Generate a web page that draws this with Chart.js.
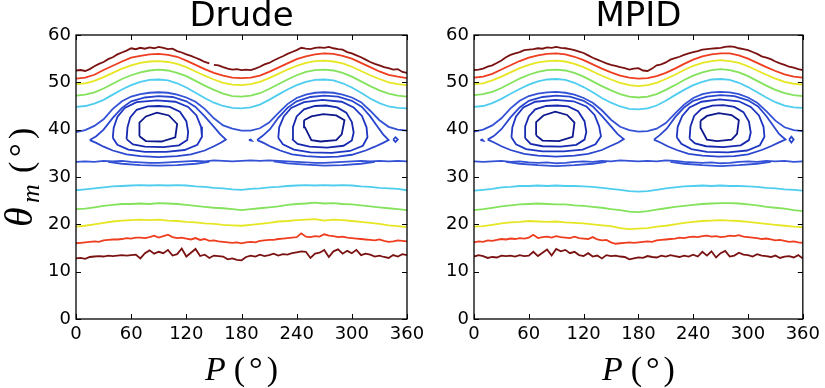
<!DOCTYPE html>
<html>
<head>
<meta charset="utf-8">
<script src="https://cdn.jsdelivr.net/npm/chart.js@4.4.1/dist/chart.umd.min.js"></script>
<style>
  body { margin: 0; background: #fff; overflow: hidden; }
  #wrap { position: relative; width: 825px; height: 388px; }
  canvas { position: absolute; top: 0; }
  #left { left: 0; }
  #right { left: 410px; }
</style>
</head>
<body>
<div id="wrap">
  <canvas id="left" width="430" height="388"></canvas>
  <canvas id="right" width="415" height="388"></canvas>
</div>
<script>
// angle grids (degrees of P)
var P10 = [0,10,20,30,40,50,60,70,80,90,100,110,120,130,140,150,160,170,180,190,200,210,220,230,240,250,260,270,280,290,300,310,320,330,340,350,360];
var P5 = [0,5,10,15,20,25,30,35,40,45,50,55,60,65,70,75,80,85,90,95,100,105,110,115,120,125,130,135,140,145,150,155,160,165,170,175,180,185,190,195,200,205,210,215,220,225,230,235,240,245,250,255,260,265,270,275,280,285,290,295,300,305,310,315,320,325,330,335,340,345,350,355,360];
var xTicks = [0, 60, 120, 180, 240, 300, 360];
var yTicks = [0, 10, 20, 30, 40, 50, 60];

// ---- Drude ----
var drudeDarkRedTopA = [52.5,52.6,52.4,52.8,53.4,53.9,54.3,54.9,55.3,55.9,56.3,56.7,
  57.2,57.0,57.3,57.1,57.4,57.2,57.5,57.3,57.0,57.1,56.6,56.3,
  55.9,55.6,55.2,54.8,54.3,54.0];
var drudeDarkRedTopB = [53.7,53.6,53.2,52.9,52.7,52.8,
  52.6,52.7,52.6,52.9,53.3,53.8,54.1,54.6,55.1,55.5,56.0,56.4,
  56.8,57.3,57.1,57.0,57.3,57.4,57.3,57.5,57.2,57.0,56.9,56.4,
  56.1,55.7,55.3,54.8,54.3,53.9,53.6,53.2,53.0,52.7,52.8,52.2,52.0];
var drudeRedTop = [50.8,51.0,51.6,52.6,53.5,54.4,55.2,55.6,55.9,56.0,55.8,55.4,54.6,53.7,52.8,52.0,51.4,51.0,50.9,51.0,51.4,52.2,53.1,54.0,54.9,55.5,55.9,56.1,56.0,55.6,55.0,54.1,53.2,52.3,51.6,51.2,50.9];
var drudeYellowTop = [49.6,49.8,50.3,51.1,52.0,52.9,53.6,54.1,54.4,54.5,54.3,53.9,53.2,52.3,51.4,50.6,49.9,49.5,49.4,49.6,50.1,50.9,51.8,52.7,53.5,54.1,54.5,54.6,54.4,54.0,53.3,52.4,51.5,50.7,50.0,49.6,49.4];
var drudeGreenTop = [47.2,47.4,47.9,48.7,49.7,50.7,51.5,52.1,52.5,52.7,52.5,52.0,51.3,50.3,49.3,48.4,47.6,47.1,47.0,47.2,47.7,48.6,49.6,50.6,51.5,52.2,52.6,52.7,52.5,52.0,51.2,50.2,49.2,48.3,47.6,47.2,47.0];
var drudeCyanTop = [44.8,45.0,45.5,46.3,47.4,48.5,49.4,50.1,50.5,50.6,50.4,49.8,48.9,47.8,46.7,45.7,45.0,44.6,44.5,44.7,45.3,46.3,47.4,48.5,49.4,50.1,50.5,50.6,50.4,49.8,48.9,47.8,46.6,45.6,44.9,44.6,44.5];
var drudeBlueTop = [39.5,39.9,40.8,42.2,44.4,46.0,47.0,47.5,47.8,47.9,47.8,47.4,46.8,45.9,44.4,42.4,40.9,40.2,39.8,39.8,40.3,41.5,43.5,45.4,46.7,47.4,47.8,47.9,47.8,47.4,46.8,45.8,44.0,42.0,40.6,40.0,39.8];
var drudeBlueLow = [33.2,33.3,33.2,33.4,33.3,33.4,33.2,33.1,33.0,33.0,33.1,33.2,33.3,33.4,33.3,33.5,33.4,33.3,33.4,33.5,33.4,33.5,33.4,33.3,33.2,33.1,33.0,33.0,33.1,33.2,33.3,33.4,33.3,33.4,33.3,33.4,33.3];
var drudeCyanLow = [27.2,27.4,27.6,27.8,28.0,28.1,28.2,28.3,28.2,28.3,28.2,28.3,28.2,28.0,27.9,27.7,27.6,27.4,27.3,27.5,27.6,27.8,27.9,28.1,28.2,28.3,28.2,28.3,28.2,28.3,28.2,28.0,27.9,27.7,27.6,27.5,27.2];
var drudeGreenLow = [23.2,23.3,23.6,23.9,24.1,24.3,24.3,24.4,24.3,24.5,24.4,24.3,24.1,23.9,23.7,23.5,23.4,23.2,23.0,23.2,23.4,23.6,23.8,24.1,24.3,24.4,24.6,24.4,24.5,24.3,24.2,24.0,23.8,23.6,23.4,23.2,23.0];
var drudeYellowLow = [19.5,19.7,20.0,20.3,20.6,20.8,20.9,21.0,20.9,21.0,20.8,20.7,20.5,20.4,20.2,20.1,19.9,19.8,19.7,19.9,20.1,20.3,20.6,20.7,20.9,21.0,21.1,20.8,21.0,20.9,20.7,20.5,20.3,20.1,19.8,19.6,19.4];
var drudeRedLow = [16.0,16.1,16.2,16.3,16.4,16.3,16.6,16.7,16.8,16.8,16.9,17.1,
  17.0,17.2,17.2,17.1,17.3,17.6,17.2,17.5,17.8,17.3,17.1,17.2,
  17.0,16.8,17.1,16.7,16.9,16.5,16.6,16.4,16.3,16.2,16.1,16.2,
  16.0,16.2,16.3,16.2,16.5,16.6,16.7,16.7,16.9,17.0,17.1,17.2,
  17.3,18.1,17.4,17.3,17.5,17.4,17.9,17.6,17.5,17.3,17.4,17.2,
  17.1,17.0,16.9,16.8,16.7,16.6,16.8,16.5,16.3,16.4,16.6,16.5,16.4];
var drudeDarkRedLow = [12.8,12.9,12.7,13.1,13.2,13.3,13.2,13.4,13.3,13.4,13.5,13.4,
  13.5,13.6,12.8,13.9,14.5,13.8,14.2,13.9,14.6,13.4,13.7,14.9,
  13.2,14.0,14.8,13.3,13.6,12.9,13.4,13.3,13.2,12.6,12.8,12.5,
  12.4,13.1,13.4,13.2,13.6,13.3,13.5,13.8,13.4,13.7,13.6,13.9,
  14.1,14.3,14.2,12.9,13.8,14.0,14.6,13.1,14.3,14.7,13.8,14.4,
  13.9,14.6,13.5,13.8,13.6,13.2,13.4,13.1,12.9,13.5,13.2,13.7,13.5];
// closed contours around the two minima, [P, theta]
var drudeEyeA1 = [[69,38.6],[69,41.5],[76,42.8],[88,43.6],[101,43.0],[110,41.2],[108,38.4],[93,37.5],[76,37.6],[69,38.6]];
var drudeEyeA2 = [[55,38.0],[56,40.5],[59,42.6],[66,44.2],[78,44.9],[90,45.0],[102,44.8],[113,43.8],[120,41.8],[122,39.5],[121,37.8],[112,36.7],[95,36.3],[75,36.4],[62,36.9],[55,38.0]];
var drudeEyeA3 = [[40,38.3],[41,40.4],[45,42.7],[53,44.6],[66,45.8],[88,46.2],[108,45.9],[122,44.8],[131,43.0],[136,40.6],[137,38.5],[132,36.8],[118,35.7],[98,35.3],[75,35.3],[57,35.8],[45,36.8],[40,38.3]];
var drudeEyeA4 = [[15,37.8],[22,38.6],[30,40.0],[40,42.5],[50,44.6],[60,46.0],[75,46.8],[90,47.1],[105,46.9],[120,46.0],[130,44.8],[140,42.8],[150,40.6],[157,39.0],[163,37.9],[158,37.3],[150,36.5],[140,35.6],[125,34.8],[110,34.4],[90,34.2],[70,34.4],[55,34.8],[40,35.6],[30,36.4],[22,37.2],[15,37.8]];
var drudeEyeB1 = [[248,42.0],[256,42.8],[269,43.3],[283,43.0],[292,42.0],[289,39.0],[283,37.8],[266,37.5],[256,37.8],[249,40.5],[248,42.0]];
var drudeEyeB2 = [[235,38.0],[236,40.6],[240,42.8],[248,44.3],[260,45.0],[272,45.1],[284,44.7],[294,43.6],[300,41.6],[302,39.4],[300,37.7],[291,36.6],[273,36.2],[254,36.4],[241,37.0],[235,38.0]];
var drudeEyeB3 = [[220,38.3],[221,40.5],[226,42.8],[234,44.6],[248,45.8],[268,46.3],[289,45.9],[302,44.7],[311,42.9],[316,40.5],[317,38.4],[312,36.6],[298,35.5],[278,35.1],[255,35.2],[237,35.8],[225,36.9],[220,38.3]];
var drudeEyeB4 = [[197,37.8],[203,38.7],[211,40.1],[220,42.5],[230,44.6],[240,46.0],[255,46.9],[270,47.2],[285,47.0],[300,46.1],[311,44.8],[320,42.8],[328,40.6],[334,39.0],[340,37.8],[334,37.2],[325,36.4],[315,35.6],[300,34.7],[285,34.3],[268,34.2],[250,34.4],[235,34.8],[222,35.6],[212,36.4],[204,37.2],[197,37.8]];
var drudeArcA = [[35,33.2],[50,32.8],[70,32.5],[90,32.4],[110,32.5],[130,32.8],[145,33.2]];
var drudeArcB = [[215,33.3],[230,32.9],[250,32.6],[270,32.4],[290,32.5],[310,32.8],[325,33.2]];
var drudeBits = [[[345,37.9],[347.5,38.4],[350,37.9],[347.5,37.4],[345,37.9]], [[188,37.8],[190,37.9],[191,37.7],[188,37.8]]];

// ---- MPID ----
var mpidDarkRedTop = [52.6,52.7,52.9,53.3,53.6,54.1,54.6,55.3,55.8,56.1,56.4,56.8,
  56.9,57.0,57.2,57.1,57.4,57.3,57.5,57.3,57.2,57.0,56.8,56.5,
  56.2,55.7,55.2,54.8,54.4,54.0,53.7,53.5,53.2,53.0,52.7,52.9,
  53.0,52.5,52.4,52.9,53.6,53.8,54.2,54.8,55.1,55.4,55.8,56.1,
  56.4,56.6,56.9,57.0,57.1,57.2,57.3,57.5,57.6,57.5,57.2,57.0,
  56.8,56.4,56.0,55.5,55.2,54.9,54.4,54.0,53.7,53.3,53.1,52.8,52.6];
var mpidRedTop = [51.0,51.2,51.8,52.7,53.6,54.5,55.2,55.7,56.0,56.1,55.9,55.4,54.7,53.8,52.9,52.1,51.4,51.0,50.8,50.9,51.3,52.0,52.9,53.9,54.8,55.5,55.9,56.1,56.1,55.7,55.0,54.1,53.2,52.4,51.7,51.2,51.0];
var mpidYellowTop = [49.6,49.8,50.4,51.2,52.1,53.0,53.7,54.2,54.5,54.6,54.4,53.9,53.2,52.3,51.4,50.6,49.9,49.4,49.2,49.4,49.9,50.7,51.6,52.6,53.5,54.1,54.5,54.7,54.5,54.1,53.4,52.5,51.6,50.8,50.1,49.7,49.5];
var mpidGreenTop = [47.3,47.5,48.0,48.8,49.8,50.8,51.6,52.2,52.6,52.7,52.5,52.0,51.2,50.2,49.2,48.3,47.5,47.0,46.8,47.0,47.5,48.4,49.4,50.5,51.4,52.1,52.6,52.8,52.6,52.1,51.3,50.3,49.3,48.4,47.7,47.3,47.1];
var mpidCyanTop = [44.8,45.0,45.6,46.5,47.6,48.6,49.5,50.2,50.6,50.7,50.5,49.9,49.0,47.9,46.7,45.7,44.9,44.4,44.3,44.5,45.1,46.1,47.3,48.4,49.4,50.1,50.6,50.7,50.5,49.9,49.0,47.9,46.8,45.8,45.1,44.7,44.6];
var mpidBlueTop = [39.6,40.0,40.9,42.4,44.5,46.1,47.1,47.6,47.9,48.0,47.8,47.4,46.7,45.7,44.1,42.1,40.6,39.9,39.6,39.7,40.2,41.4,43.4,45.3,46.7,47.5,47.9,48.0,47.9,47.5,46.8,45.7,43.9,41.9,40.5,39.9,39.7];
var mpidBlueLow = [33.3,33.2,33.3,33.4,33.2,33.3,33.1,33.0,33.1,32.9,33.0,33.2,33.3,33.2,33.4,33.3,33.5,33.4,33.3,33.4,33.3,33.5,33.4,33.2,33.1,33.0,33.1,32.9,33.0,33.2,33.3,33.2,33.4,33.3,33.4,33.2,33.3];
var mpidCyanLow = [27.1,27.3,27.5,27.8,27.9,28.1,28.1,28.2,28.1,28.2,28.1,28.1,28.0,27.9,27.7,27.5,27.3,27.0,26.9,27.0,27.3,27.6,27.8,28.0,28.1,28.2,28.1,28.2,28.1,28.1,28.0,27.9,27.7,27.6,27.4,27.3,27.1];
var mpidGreenLow = [23.0,23.2,23.5,23.8,24.0,24.2,24.3,24.4,24.3,24.2,24.2,24.0,23.9,23.7,23.5,23.2,23.0,22.7,22.6,22.8,23.1,23.4,23.7,23.9,24.1,24.3,24.4,24.5,24.5,24.4,24.2,24.0,23.7,23.5,23.3,23.0,22.8];
var mpidYellowLow = [19.5,19.6,19.9,20.2,20.4,20.5,20.7,20.6,20.5,20.6,20.4,20.3,20.2,20.0,19.8,19.6,19.2,19.0,19.1,19.2,19.5,19.7,20.0,20.3,20.5,20.7,20.8,20.9,20.8,20.7,20.5,20.3,20.1,19.9,19.7,19.5,19.4];
var mpidRedLow = [16.2,16.4,16.3,16.6,16.5,16.7,16.9,16.8,17.0,16.9,17.1,17.0,
  17.2,17.8,17.1,17.3,17.4,17.2,17.5,17.3,17.2,17.1,17.4,17.1,
  17.0,16.9,17.3,16.8,16.6,16.7,16.2,15.9,16.0,16.1,16.2,16.1,
  16.2,16.3,16.4,16.3,16.6,16.7,16.8,16.9,17.0,17.2,17.1,17.3,
  17.4,17.3,17.5,17.6,17.4,17.5,17.3,17.4,17.6,17.5,17.7,17.4,
  17.3,17.2,17.1,16.9,17.0,16.8,16.6,16.7,16.5,16.3,16.4,16.2,16.1];
var mpidDarkRedLow = [13.2,13.5,13.3,12.9,13.1,13.0,13.4,13.3,13.4,13.2,13.5,13.3,
  13.4,14.2,13.3,14.0,14.7,13.4,14.8,14.3,14.6,13.9,14.2,13.5,
  13.3,13.9,13.2,13.4,12.8,13.5,13.3,13.4,13.2,13.1,12.6,12.8,
  13.0,12.9,13.3,13.1,13.0,13.4,13.2,13.5,13.3,13.1,13.4,13.2,
  13.6,13.2,14.2,13.4,14.3,13.0,13.9,14.4,13.2,13.4,14.0,13.6,
  13.5,13.2,13.7,13.4,13.3,13.1,13.4,12.9,13.2,13.3,13.0,13.5,12.8];
var mpidEyeA1 = [[68,38.8],[68,41.6],[76,43.0],[89,43.8],[102,43.1],[110,41.5],[108,38.5],[93,37.6],[75,37.7],[68,38.8]];
var mpidEyeA2 = [[56,38.2],[56,40.7],[60,42.8],[67,44.3],[79,45.0],[91,45.1],[103,44.9],[114,43.9],[121,41.8],[123,39.5],[121,37.9],[112,36.8],[95,36.4],[75,36.5],[62,37.0],[56,38.2]];
var mpidEyeA3 = [[41,38.4],[42,40.5],[46,42.8],[54,44.7],[67,45.9],[89,46.3],[109,46.0],[123,44.9],[132,43.1],[137,40.7],[139,38.6],[133,36.9],[119,35.8],[98,35.4],[75,35.4],[57,35.9],[46,36.9],[41,38.4]];
var mpidEyeA4 = [[15,37.9],[22,38.7],[30,40.1],[40,42.6],[50,44.7],[60,46.1],[75,46.9],[90,47.2],[105,47.0],[120,46.1],[130,44.9],[140,42.9],[150,40.7],[157,39.1],[164,38.0],[158,37.3],[150,36.6],[140,35.7],[125,34.9],[110,34.5],[90,34.3],[70,34.5],[55,34.9],[40,35.7],[30,36.5],[22,37.3],[15,37.9]];
var mpidEyeB1 = [[248,41.9],[255,42.9],[268,43.5],[282,43.1],[290,42.0],[288,39.1],[282,37.9],[266,37.6],[255,37.9],[248,40.4],[248,41.9]];
var mpidEyeB2 = [[236,38.1],[237,40.7],[241,42.9],[249,44.4],[261,45.1],[273,45.2],[285,44.8],[295,43.7],[301,41.7],[303,39.4],[301,37.8],[292,36.7],[273,36.3],[254,36.5],[242,37.1],[236,38.1]];
var mpidEyeB3 = [[222,38.4],[223,40.6],[228,42.9],[236,44.7],[249,45.9],[269,46.4],[290,46.0],[303,44.8],[312,43.0],[317,40.6],[318,38.5],[313,36.7],[299,35.6],[278,35.2],[255,35.3],[238,35.9],[227,37.0],[222,38.4]];
var mpidEyeB4 = [[197,37.9],[203,38.8],[211,40.2],[220,42.6],[230,44.7],[240,46.1],[255,47.0],[270,47.3],[285,47.1],[300,46.2],[311,44.9],[320,42.9],[328,40.7],[334,39.1],[341,37.9],[334,37.3],[325,36.5],[315,35.7],[300,34.8],[285,34.4],[268,34.3],[250,34.5],[235,34.9],[222,35.7],[212,36.5],[204,37.3],[197,37.9]];
var mpidArcA = [[35,33.2],[50,32.8],[70,32.5],[90,32.3],[110,32.5],[130,32.8],[145,33.2]];
var mpidArcB = [[215,33.2],[230,32.8],[250,32.5],[270,32.3],[290,32.5],[310,32.8],[325,33.2]];
var mpidBits = [[[345,37.9],[347.5,38.5],[350,37.9],[347.5,37.3],[345,37.9]], [[7,37.8],[9,37.9],[10,37.7],[7,37.8]]];

// jet-like level colours
var C = {
  darkRed: '#7a1212', red: '#ee3d1f', yellow: '#e6e624', green: '#84e25c', cyan: '#4fcdef',
  blue5: '#3352d6', blue4: '#2a46cf', blue3: '#1e36c2', blue2: '#1628ae', navy: '#0d188c'
};

function line(xs, ys, color) {
  return { data: xs.map(function (x, i) { return { x: x, y: ys[i] }; }), borderColor: color };
}
function loop(pts, color) {
  return { data: pts.map(function (p) { return { x: p[0], y: p[1] }; }), borderColor: color };
}

var drudeSets = [
  line(P5.slice(0, 30), drudeDarkRedTopA, C.darkRed),
  line(P5.slice(30), drudeDarkRedTopB, C.darkRed),
  line(P10, drudeRedTop, C.red),
  line(P10, drudeYellowTop, C.yellow),
  line(P10, drudeGreenTop, C.green),
  line(P10, drudeCyanTop, C.cyan),
  line(P10, drudeBlueTop, C.blue5),
  line(P10, drudeBlueLow, C.blue5),
  loop(drudeArcA, C.blue5), loop(drudeArcB, C.blue5),
  loop(drudeEyeA4, C.blue4), loop(drudeEyeB4, C.blue4),
  loop(drudeBits[0], C.blue4), loop(drudeBits[1], C.blue4),
  loop(drudeEyeA3, C.blue3), loop(drudeEyeB3, C.blue3),
  loop(drudeEyeA2, C.blue2), loop(drudeEyeB2, C.blue2),
  loop(drudeEyeA1, C.navy), loop(drudeEyeB1, C.navy),
  line(P10, drudeCyanLow, C.cyan),
  line(P10, drudeGreenLow, C.green),
  line(P10, drudeYellowLow, C.yellow),
  line(P5, drudeRedLow, C.red),
  line(P5, drudeDarkRedLow, C.darkRed)
];
var mpidSets = [
  line(P5, mpidDarkRedTop, C.darkRed),
  line(P10, mpidRedTop, C.red),
  line(P10, mpidYellowTop, C.yellow),
  line(P10, mpidGreenTop, C.green),
  line(P10, mpidCyanTop, C.cyan),
  line(P10, mpidBlueTop, C.blue5),
  line(P10, mpidBlueLow, C.blue5),
  loop(mpidArcA, C.blue5), loop(mpidArcB, C.blue5),
  loop(mpidEyeA4, C.blue4), loop(mpidEyeB4, C.blue4),
  loop(mpidBits[0], C.blue4), loop(mpidBits[1], C.blue4),
  loop(mpidEyeA3, C.blue3), loop(mpidEyeB3, C.blue3),
  loop(mpidEyeA2, C.blue2), loop(mpidEyeB2, C.blue2),
  loop(mpidEyeA1, C.navy), loop(mpidEyeB1, C.navy),
  line(P10, mpidCyanLow, C.cyan),
  line(P10, mpidGreenLow, C.green),
  line(P10, mpidYellowLow, C.yellow),
  line(P5, mpidRedLow, C.red),
  line(P5, mpidDarkRedLow, C.darkRed)
];

function serif(size, italic) {
  return (italic ? 'italic ' : '') + size + 'px "Liberation Serif"';
}
// x label pieces: [text, size, italic, dy, gapAfter]
var xLabel = [['P', 34, true, 0, 8], ['(', 34, false, 0, 4], ['\u00b0', 34, false, 0, 4], [')', 34, false, 0, 0]];
// y label pieces: [text, size, italic, dy, offset along the text from its start]
var yLabel = [['\u03b8', 40, true, 0, 0], ['m', 26, true, 7, 24], ['(', 34, false, 0, 54], ['\u00b0', 34, false, 0, 70], [')', 34, false, 0, 88]];

// frame, inward ticks on all four sides, and axis labels
var framePlugin = {
  id: 'framePlugin',
  afterDraw: function (chart, args, opts) {
    var ctx = chart.ctx, a = chart.chartArea, sx = chart.scales.x, sy = chart.scales.y;
    ctx.save();
    ctx.strokeStyle = '#000';
    ctx.lineWidth = 1.3;
    ctx.strokeRect(a.left, a.top, a.right - a.left, a.bottom - a.top);
    ctx.beginPath();
    xTicks.forEach(function (v) {
      var px = Math.round(sx.getPixelForValue(v)) + 0.5;
      ctx.moveTo(px, a.bottom); ctx.lineTo(px, a.bottom - 5);
      ctx.moveTo(px, a.top); ctx.lineTo(px, a.top + 5);
    });
    yTicks.forEach(function (v) {
      var py = Math.round(sy.getPixelForValue(v)) + 0.5;
      ctx.moveTo(a.left, py); ctx.lineTo(a.left + 5, py);
      ctx.moveTo(a.right, py); ctx.lineTo(a.right - 5, py);
    });
    ctx.lineWidth = 1;
    ctx.stroke();

    ctx.fillStyle = '#000';
    ctx.textBaseline = 'alphabetic';
    ctx.textAlign = 'left';
    var w = 0;
    xLabel.forEach(function (p) { ctx.font = serif(p[1], p[2]); w += ctx.measureText(p[0]).width + p[4]; });
    var x = (a.left + a.right) / 2 - w / 2;
    xLabel.forEach(function (p) {
      ctx.font = serif(p[1], p[2]);
      ctx.fillText(p[0], x, 380 + p[3]);
      x += ctx.measureText(p[0]).width + p[4];
    });
    if (opts.yLabel) {
      // rotated text reading upward, starting at y = 227, baseline at x = 32
      yLabel.forEach(function (p) {
        ctx.setTransform(0, -1, 1, 0, 32 + p[3], 227 - p[4]);
        ctx.font = serif(p[1], p[2]);
        ctx.fillText(p[0], 0, 0);
      });
    }
    ctx.restore();
  }
};

var tickFont = { family: 'DejaVu Sans', size: 18 };

function makeChart(id, title, sets, yWidth, rightPad, withYLabel) {
  sets.forEach(function (s) {
    s.showLine = true; s.pointRadius = 0; s.borderWidth = 1.8; s.tension = 0; s.fill = false;
  });
  return new Chart(document.getElementById(id).getContext('2d'), {
    type: 'scatter',
    data: { datasets: sets },
    options: {
      responsive: false,
      animation: false,
      layout: { padding: { left: 0, right: rightPad, top: 0, bottom: 0 } },
      plugins: {
        legend: { display: false },
        tooltip: { enabled: false },
        title: {
          display: true, text: title, fullSize: false, color: '#000',
          font: { family: 'DejaVu Sans', size: 34, weight: 'normal', lineHeight: 1 },
          padding: { top: 0, bottom: 1 }
        },
        framePlugin: { yLabel: withYLabel }
      },
      scales: {
        x: {
          type: 'linear', min: 0, max: 360,
          afterBuildTicks: function (s) { s.ticks = xTicks.map(function (v) { return { value: v }; }); },
          ticks: { font: tickFont, color: '#000', padding: 5, maxRotation: 0, autoSkip: false },
          grid: { display: false, drawTicks: false },
          border: { display: false },
          afterFit: function (s) { s.height = 69; }
        },
        y: {
          type: 'linear', min: 0, max: 60,
          afterBuildTicks: function (s) { s.ticks = yTicks.map(function (v) { return { value: v }; }); },
          ticks: { font: tickFont, color: '#000', padding: 5, autoSkip: false },
          grid: { display: false, drawTicks: false },
          border: { display: false },
          afterFit: function (s) { s.width = yWidth; }
        }
      }
    },
    plugins: [framePlugin]
  });
}

makeChart('left', 'Drude', drudeSets, 76, 23, true);
makeChart('right', 'MPID', mpidSets, 64, 20, false);
</script>
</body>
</html>
